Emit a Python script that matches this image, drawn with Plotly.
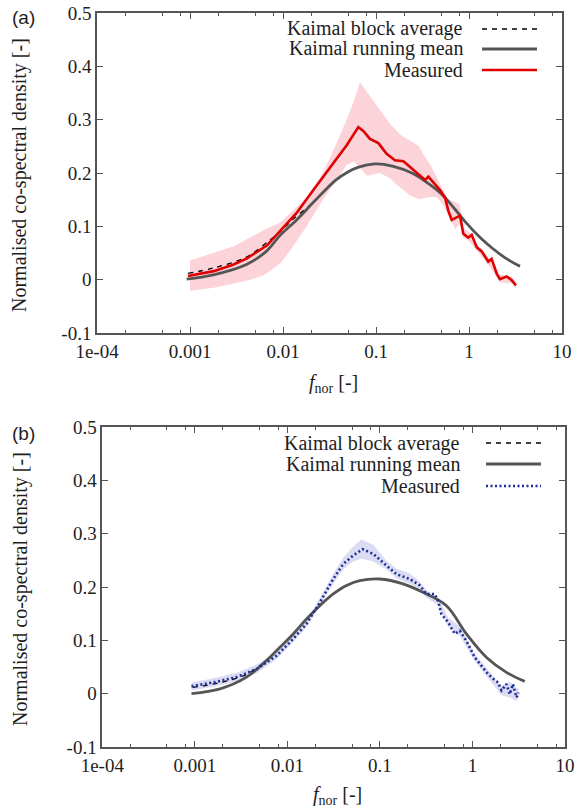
import plotly.graph_objects as go

# ---------------- data ----------------
# Panel (a)
a_kaimal_block_f = [0.00095, 0.0018, 0.0041, 0.0072, 0.0093, 0.013, 0.0212, 0.03, 0.0378, 0.0488,
                    0.065, 0.0975, 0.15, 0.25, 0.38, 0.525, 0.7, 0.95, 1.3, 1.81, 2.5, 3.53]
a_kaimal_block_y = [0.012, 0.022, 0.043, 0.074, 0.090, 0.114, 0.145, 0.172, 0.188, 0.201,
                    0.211, 0.217, 0.213, 0.199, 0.178, 0.158, 0.133, 0.105, 0.080, 0.058, 0.040, 0.025]

a_kaimal_run_f = [0.00092, 0.00178, 0.0041, 0.0065, 0.0093, 0.014, 0.0212, 0.03, 0.0378, 0.0488,
                  0.065, 0.0975, 0.15, 0.25, 0.38, 0.525, 0.7, 0.95, 1.3, 1.81, 2.5, 3.53]
a_kaimal_run_y = [0.001, 0.009, 0.029, 0.052, 0.083, 0.112, 0.145, 0.172, 0.188, 0.201,
                  0.211, 0.217, 0.213, 0.199, 0.178, 0.158, 0.133, 0.105, 0.080, 0.058, 0.040, 0.025]

a_meas_f = [0.00095, 0.0018, 0.0029, 0.0041, 0.0067, 0.0093, 0.0140, 0.0212, 0.0320, 0.0378,
            0.0484, 0.0646, 0.0731, 0.0861, 0.106, 0.130, 0.160, 0.197, 0.232, 0.285,
            0.337, 0.366, 0.413, 0.488, 0.552, 0.600, 0.652, 0.738, 0.800, 0.869,
            0.984, 1.07, 1.21, 1.37, 1.61, 1.75, 1.99, 2.15, 2.54, 2.88, 3.20]
a_meas_y = [0.007, 0.016, 0.028, 0.040, 0.064, 0.092, 0.125, 0.168, 0.210, 0.228,
            0.252, 0.286, 0.279, 0.264, 0.256, 0.236, 0.224, 0.222, 0.211, 0.197,
            0.187, 0.193, 0.182, 0.168, 0.154, 0.129, 0.112, 0.116, 0.120, 0.086,
            0.079, 0.084, 0.061, 0.053, 0.034, 0.039, 0.011, 0.001, 0.006, -0.001, -0.011]

a_band_f = [0.001, 0.0018, 0.0029, 0.0041, 0.0061, 0.0093, 0.0119, 0.018, 0.025, 0.032,
            0.0484, 0.058, 0.0673, 0.08, 0.11, 0.142, 0.165, 0.188, 0.232, 0.29,
            0.32, 0.38, 0.45, 0.53, 0.6, 0.71, 0.8, 0.87, 1.0, 1.21, 1.61, 2.15, 2.88, 3.2]
a_band_lo = [-0.021, -0.015, -0.008, -0.002, 0.008, 0.030, 0.054, 0.100, 0.142, 0.170,
             0.215, 0.222, 0.210, 0.195, 0.200, 0.190, 0.179, 0.170, 0.158, 0.151,
             0.152, 0.155, 0.155, 0.140, 0.120, 0.095, 0.105, 0.078, 0.072, 0.055, 0.028, -0.005, -0.007, -0.017]
a_band_hi = [0.036, 0.050, 0.062, 0.076, 0.092, 0.107, 0.125, 0.154, 0.190, 0.228,
             0.300, 0.336, 0.370, 0.352, 0.317, 0.292, 0.280, 0.270, 0.261, 0.250,
             0.236, 0.217, 0.192, 0.167, 0.150, 0.146, 0.140, 0.097, 0.090, 0.068, 0.042, 0.009, 0.006, -0.004]

# Panel (b)
b_kaimal_run_f = [0.00092, 0.00187, 0.00362, 0.00595, 0.0083, 0.01156, 0.0161, 0.0224, 0.0313, 0.0436,
                  0.0607, 0.0998, 0.178, 0.292, 0.523, 0.861, 1.42, 2.33, 3.67]
b_kaimal_run_y = [0.000, 0.009, 0.031, 0.062, 0.087, 0.112, 0.140, 0.165, 0.187, 0.203,
                  0.212, 0.215, 0.206, 0.190, 0.165, 0.112, 0.068, 0.040, 0.023]

b_kaimal_block_f = [0.00095, 0.0018, 0.0036, 0.00595, 0.0083, 0.01156, 0.0161, 0.0224, 0.0313, 0.0436,
                    0.0607, 0.0998, 0.178, 0.292, 0.523, 0.861, 1.42, 2.33, 3.67]
b_kaimal_block_y = [0.012, 0.020, 0.036, 0.063, 0.087, 0.112, 0.140, 0.165, 0.187, 0.203,
                    0.212, 0.215, 0.206, 0.190, 0.165, 0.112, 0.068, 0.040, 0.023]

b_meas_f = [0.00092, 0.00158, 0.00282, 0.00464, 0.00763, 0.01156, 0.0161, 0.0224, 0.0313, 0.0401,
            0.0514, 0.065, 0.0846, 0.118, 0.151, 0.21, 0.27, 0.318, 0.392, 0.425,
            0.462, 0.546, 0.644, 0.73, 0.861, 1.06, 1.30, 1.47, 1.67, 1.89,
            2.06, 2.33, 2.53, 2.74, 2.99, 3.15]
b_meas_y = [0.014, 0.021, 0.031, 0.046, 0.071, 0.103, 0.131, 0.171, 0.215, 0.243,
            0.259, 0.271, 0.262, 0.240, 0.224, 0.215, 0.203, 0.187, 0.187, 0.174,
            0.149, 0.134, 0.112, 0.118, 0.099, 0.068, 0.049, 0.037, 0.028, 0.021,
            0.006, 0.018, -0.001, 0.018, -0.007, 0.002]

b_band_f = [0.00092, 0.0016, 0.0028, 0.0046, 0.0076, 0.0116, 0.0161, 0.0224, 0.0313, 0.0401,
            0.0514, 0.0632, 0.0846, 0.118, 0.151, 0.21, 0.27, 0.318, 0.425, 0.546,
            0.73, 1.06, 1.47, 2.06, 2.53, 2.99, 3.15]
b_band_lo = [0.006, 0.013, 0.023, 0.038, 0.064, 0.097, 0.125, 0.164, 0.206, 0.233,
             0.248, 0.253, 0.248, 0.233, 0.216, 0.206, 0.195, 0.180, 0.166, 0.126,
             0.108, 0.061, 0.029, -0.003, -0.007, -0.014, -0.006]
b_band_hi = [0.021, 0.029, 0.039, 0.054, 0.078, 0.109, 0.137, 0.179, 0.225, 0.255,
             0.276, 0.289, 0.279, 0.249, 0.234, 0.226, 0.210, 0.194, 0.180, 0.143,
             0.126, 0.075, 0.045, 0.015, 0.023, 0.010, 0.010]

x_tick_vals = [1e-4, 1e-3, 1e-2, 1e-1, 1, 10]
x_tick_text = ["1e-04", "0.001", "0.01", "0.1", "1", "10"]
x_minor_vals = [m * d for d in [1e-4, 1e-3, 1e-2, 1e-1, 1] for m in (2, 5, 8)]
y_tick_vals = [-0.1, 0, 0.1, 0.2, 0.3, 0.4, 0.5]
y_tick_text = ["-0.1", "0", "0.1", "0.2", "0.3", "0.4", "0.5"]

legend_labels = ["Kaimal block average", "Kaimal running mean", "Measured"]
y_title = "Normalised co-spectral density [-]"
x_title = "<i>f</i><sub>nor</sub> [-]"

# ---------------- styling ----------------
W, H = 587, 812
SERIF = "Liberation Serif, Times New Roman, serif"
FRAME = "#555555"
GRAY = "#555555"
RED = "#e00000"
BLUE = "#1b2e94"
PINK = "rgba(248,175,185,0.55)"
LAV = "rgba(165,165,225,0.40)"
TXT = "#1e1e1e"

def px(x):
    return x / W

def py(y):
    return 1 - y / H

fig = go.Figure()

def band(f, lo, hi, color, xa, ya):
    fig.add_trace(go.Scatter(x=list(f) + list(f)[::-1], y=list(hi) + list(lo)[::-1],
                             fill="toself", fillcolor=color, line=dict(width=0),
                             mode="lines", hoverinfo="skip", showlegend=False,
                             xaxis=xa, yaxis=ya))

# panel a
band(a_band_f, a_band_lo, a_band_hi, PINK, "x", "y")
fig.add_trace(go.Scatter(x=a_kaimal_block_f, y=a_kaimal_block_y, mode="lines",
                         line=dict(color="black", width=1.3, dash="5px,5px", shape="spline"),
                         showlegend=False, xaxis="x", yaxis="y"))
fig.add_trace(go.Scatter(x=a_kaimal_run_f, y=a_kaimal_run_y, mode="lines",
                         line=dict(color=GRAY, width=2.8, shape="spline"),
                         showlegend=False, xaxis="x", yaxis="y"))
fig.add_trace(go.Scatter(x=a_meas_f, y=a_meas_y, mode="lines",
                         line=dict(color=RED, width=2.6),
                         showlegend=False, xaxis="x", yaxis="y"))

# panel b
band(b_band_f, b_band_lo, b_band_hi, LAV, "x2", "y2")
fig.add_trace(go.Scatter(x=b_kaimal_block_f, y=b_kaimal_block_y, mode="lines",
                         line=dict(color="black", width=1.3, dash="5px,5px", shape="spline"),
                         showlegend=False, xaxis="x2", yaxis="y2"))
fig.add_trace(go.Scatter(x=b_kaimal_run_f, y=b_kaimal_run_y, mode="lines",
                         line=dict(color=GRAY, width=2.8, shape="spline"),
                         showlegend=False, xaxis="x2", yaxis="y2"))
fig.add_trace(go.Scatter(x=b_meas_f, y=b_meas_y, mode="lines",
                         line=dict(color=BLUE, width=2.6, dash="2px,2.5px"),
                         showlegend=False, xaxis="x2", yaxis="y2"))

tickfont = dict(family=SERIF, size=19, color=TXT)

def xaxis(domain, anchor):
    return dict(type="log", range=[-4, 1], domain=domain, anchor=anchor, automargin=False,
                tickmode="array", tickvals=x_tick_vals, ticktext=x_tick_text,
                ticks="inside", ticklen=6, tickwidth=1.2, tickcolor=FRAME,
                minor=dict(tickmode="array", tickvals=x_minor_vals, ticks="inside",
                           ticklen=3, tickwidth=1.2, tickcolor=FRAME, showgrid=False),
                showline=True, linecolor=FRAME, linewidth=1.6, mirror="ticks",
                showgrid=False, zeroline=False, tickfont=tickfont)

def yaxis(domain, anchor):
    return dict(range=[-0.1, 0.5], domain=domain, anchor=anchor, automargin=False,
                tickmode="array", tickvals=y_tick_vals, ticktext=y_tick_text,
                ticks="inside", ticklen=6, tickwidth=1.2, tickcolor=FRAME,
                showline=True, linecolor=FRAME, linewidth=1.6, mirror="ticks",
                showgrid=False, zeroline=False, tickfont=tickfont)

fig.update_layout(
    width=W, height=H,
    margin=dict(l=0, r=0, t=0, b=0, pad=0, autoexpand=False),
    paper_bgcolor="white", plot_bgcolor="white",
    showlegend=False,
    font=dict(family=SERIF, color=TXT),
    xaxis=xaxis([px(97), px(562)], "y"),
    yaxis=yaxis([py(333), py(13)], "x"),
    xaxis2=xaxis([px(102.3), px(565)], "y2"),
    yaxis2=yaxis([py(747), py(427)], "x2"),
)

annotations = []
shapes = []
# axis titles and panel labels
for (ycen, xt_y, lab, lab_y, xcen) in [(175, 383, "(a)", 17, 333), (589, 795, "(b)", 434, 337)]:
    annotations.append(dict(text=y_title, x=px(20), y=py(ycen), xref="paper", yref="paper",
                            textangle=-90, showarrow=False, xanchor="center", yanchor="middle",
                            font=dict(family=SERIF, size=20, color=TXT)))
    annotations.append(dict(text=x_title, x=px(xcen), y=py(xt_y), xref="paper", yref="paper",
                            showarrow=False, xanchor="center", yanchor="middle",
                            font=dict(family=SERIF, size=20, color=TXT)))
    annotations.append(dict(text=lab, x=px(10), y=py(lab_y), xref="paper", yref="paper",
                            showarrow=False, xanchor="left", yanchor="middle",
                            font=dict(family="Liberation Sans, Arial, sans-serif", size=19, color=TXT)))

# gnuplot-style keys (text right-aligned, sample on the right)
key_styles_a = [dict(color="black", width=1.3, dash="5px,5px"),
                dict(color=GRAY, width=2.8),
                dict(color=RED, width=2.6)]
key_styles_b = [dict(color="black", width=1.3, dash="5px,5px"),
                dict(color=GRAY, width=2.8),
                dict(color=BLUE, width=2.6, dash="2px,2.5px")]
for (rows, text_r, s0, s1, styles) in [([29, 49, 70], 465, 482, 537, key_styles_a),
                                       ([443, 464, 486], 462, 486, 541, key_styles_b)]:
    for lab, ry, st in zip(legend_labels, rows, styles):
        annotations.append(dict(text=lab, x=px(text_r), y=py(ry), xref="paper", yref="paper",
                                showarrow=False, xanchor="right", yanchor="middle",
                                font=dict(family=SERIF, size=20, color=TXT)))
        shapes.append(dict(type="line", xref="paper", yref="paper",
                           x0=px(s0), x1=px(s1), y0=py(ry), y1=py(ry), line=st))

fig.update_layout(annotations=annotations, shapes=shapes)
# remove the default page margin so the 587x812 figure fills the window exactly
fig.write_html("out.html",
               config={"displayModeBar": False},
               post_script="document.body.style.margin='0';document.body.style.overflow='hidden';")
